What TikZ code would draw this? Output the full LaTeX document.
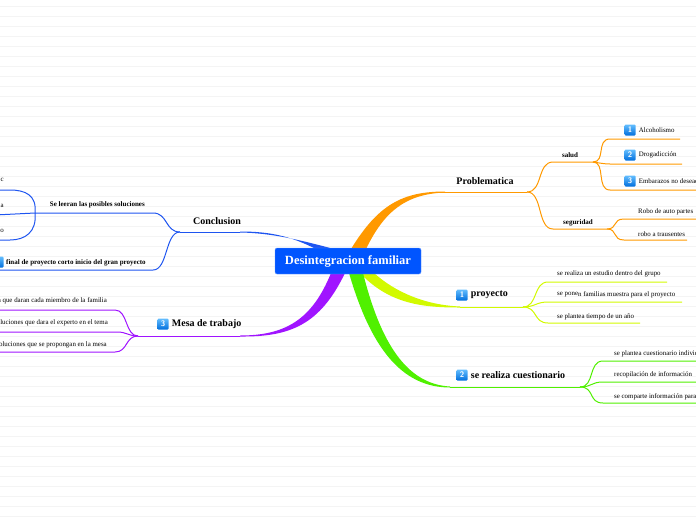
\documentclass[tikz,border=0pt]{standalone}
\usepackage{fontspec}
\setmainfont{Liberation Serif}
\usepackage{tikz}
\usetikzlibrary{positioning}
\definecolor{fondo}{RGB}{244,244,244}
\definecolor{azulcentro}{RGB}{0,85,255}
\definecolor{naranja}{RGB}{255,153,0}
\definecolor{amarillo}{RGB}{210,250,0}
\definecolor{verde}{RGB}{80,240,0}
\definecolor{azulrama}{RGB}{30,85,240}
\definecolor{morado}{RGB}{160,20,255}
\definecolor{iconoarriba}{RGB}{100,190,255}
\definecolor{iconoabajo}{RGB}{0,110,220}

\begin{document}
\begin{tikzpicture}[x=1pt, y=-1pt,
    centro/.style={fill=azulcentro, draw=azulcentro!60!white, rounded corners=2pt,
                   minimum width=146pt, minimum height=26pt, text=white,
                   font=\fontsize{12.5}{13}\selectfont\bfseries},
    rama/.style={font=\fontsize{10}{11}\selectfont\bfseries, inner sep=0pt},
    sub/.style={font=\fontsize{7}{8}\selectfont\bfseries, inner sep=0pt},
    hoja/.style={font=\fontsize{6.9}{8}\selectfont, inner sep=0pt},
    icono/.style={rounded corners=1pt, top color=iconoarriba, bottom color=iconoabajo,
                  text=white, font=\fontsize{8}{8}\selectfont\sffamily\bfseries,
                  minimum size=11pt, inner sep=0pt},
    linea/.style={line width=1pt}]
  \useasboundingbox (0,0) rectangle (696,520);
  \clip (0,0) rectangle (696,520);
  % fondo rayado
  \foreach \y in {6,16,...,516}
    \draw[fondo, line width=0.6pt] (0,\y) -- (696,\y);

  % ramas gruesas
  \fill[naranja] (351,249) .. controls (378,205) and (402,191.5) .. (445,191.5)
    -- (445,192.5) .. controls (405,194) and (384,212) .. (366,249) -- cycle;
  \fill[azulrama] (316,249) .. controls (290,236) and (270,231.5) .. (240,231.5)
    -- (240,232.5) .. controls (272,233) and (300,240) .. (334,249) -- cycle;
  \fill[morado] (331,273) .. controls (312,320) and (285,335.5) .. (240,335.5)
    -- (240,336.5) .. controls (290,337) and (320,325) .. (345,273) -- cycle;
  \fill[amarillo] (360,273) .. controls (390,305) and (425,307.5) .. (460,307.5)
    -- (460,306.5) .. controls (425,305) and (395,292) .. (374,273) -- cycle;
  \fill[verde] (349,273) .. controls (370,345) and (400,387.5) .. (450,387.5)
    -- (450,386.5) .. controls (405,384) and (380,340) .. (363,273) -- cycle;

  \node[centro] (centro) at (348,261) {Desintegracion familiar};

  % Problematica
  \coordinate (probI) at (440,192);
  \coordinate (probD) at (527,192);
  \coordinate (saludD) at (593,162);
  \coordinate (seguD) at (607,229);
  \node[rama] (problematica) at (485,181) {Problematica};
  \node[sub] (salud) at (570,155) {salud};
  \node[sub] (seguridad) at (578,223) {seguridad};
  \node[icono] (i1) at (630,130) {1};
  \node[hoja, right=3pt of i1] (alcoholismo) {Alcoholismo};
  \node[icono] (i2) at (630,155) {2};
  \node[hoja, right=3pt of i2] (drogadiccion) {Drogadicción};
  \node[icono] (i3) at (630,181) {3};
  \node[hoja, right=3pt of i3] (embarazos) {Embarazos no deseados};
  \node[hoja, anchor=west] (robo1) at (638,212) {Robo de auto partes};
  \node[hoja, anchor=west] (robo2) at (638,234) {robo a trausentes};
  \draw[naranja, linea] (probI) -- (probD);
  \draw[naranja, linea] (probD) .. controls (543,192) and (537,162) .. (553,162) -- (saludD);
  \draw[naranja, linea] (probD) .. controls (543,192) and (537,229) .. (553,229) -- (seguD);
  \draw[naranja, linea] (saludD) .. controls (606,162) and (596,139) .. (610,139) -- (680,139);
  \draw[naranja, linea] (saludD) .. controls (600,163) and (604,164) .. (610,164) -- (682,164);
  \draw[naranja, linea] (saludD) .. controls (606,162) and (596,190) .. (610,190) -- (700,190);
  \draw[naranja, linea] (seguD) .. controls (618,229) and (612,219) .. (624,219) -- (700,219);
  \draw[naranja, linea] (seguD) .. controls (618,229) and (612,240) .. (624,240) -- (687,240);

  % proyecto
  \coordinate (proyI) at (460,307);
  \coordinate (proyD) at (523,307);
  \node[icono] (i4) at (462,295) {1};
  \node[rama, right=3pt of i4] (proyecto) {proyecto};
  \node[hoja, anchor=west] (estudio) at (557,274) {se realiza un estudio dentro del grupo};
  \node[hoja, anchor=west] (familias) at (557,295)
    {se pone\raisebox{-0.8pt}{n familias muestra para el proyecto}};
  \node[hoja, anchor=west] (tiempo) at (557,317) {se plantea tiempo de un año};
  \draw[amarillo, linea] (proyI) -- (proyD);
  \draw[amarillo, linea] (proyD) .. controls (538,307) and (533,282) .. (548,282) -- (667,282);
  \draw[amarillo, linea] (proyD) .. controls (535,307) and (536,302) .. (548,302) -- (682,302);
  \draw[amarillo, linea] (proyD) .. controls (538,307) and (533,323) .. (548,323) -- (640,323);

  % se realiza cuestionario
  \coordinate (cuesI) at (450,387);
  \coordinate (cuesD) at (580,387);
  \node[icono] (i5) at (462,375) {2};
  \node[rama, right=3pt of i5] (cuestionario) {se realiza cuestionario};
  \node[hoja, anchor=west] (individual) at (614,354) {se plantea cuestionario individual};
  \node[hoja, anchor=west] (recopilacion) at (614,375) {recopilación de información};
  \node[hoja, anchor=west] (comparte) at (614,397) {se comparte información para};
  \draw[verde, linea] (cuesI) -- (cuesD);
  \draw[verde, linea] (cuesD) .. controls (595,387) and (588,361) .. (603,361) -- (700,361);
  \draw[verde, linea] (cuesD) .. controls (592,387) and (591,382) .. (603,382) -- (700,382);
  \draw[verde, linea] (cuesD) .. controls (595,387) and (588,403) .. (603,403) -- (700,403);

  % Conclusion
  \coordinate (concI) at (240,232);
  \coordinate (concD) at (180,232);
  \coordinate (leeD) at (35,213);
  \node[rama] (conclusion) at (217,221) {Conclusion};
  \node[sub, anchor=east] (leeran) at (145,205) {Se leeran las posibles soluciones};
  \node[icono] (i6) at (-2,262) {4};
  \node[sub, anchor=west] (final) at (6,263) {final de proyecto corto inicio del gran proyecto};
  \node[hoja, anchor=east] (solc) at (4,180) {c};
  \node[hoja, anchor=east] (sola) at (4,206) {a};
  \node[hoja, anchor=east] (solo) at (4,231) {o};
  \draw[azulrama, linea] (concI) -- (concD);
  \draw[azulrama, linea] (concD) .. controls (165,232) and (168,213) .. (153,213) -- (leeD);
  \draw[azulrama, linea] (concD) .. controls (165,232) and (168,270) .. (153,270) -- (-5,270);
  \draw[azulrama, linea] (leeD) .. controls (37,195) and (25,190) .. (10,190) -- (-5,190);
  \draw[azulrama, linea] (leeD) -- (-5,215);
  \draw[azulrama, linea] (leeD) .. controls (37,232) and (25,240) .. (10,240) -- (-5,240);

  % Mesa de trabajo
  \coordinate (mesaI) at (240,336);
  \coordinate (mesaD) at (138,336);
  \node[icono] (i7) at (163,324) {3};
  \node[rama, right=3pt of i7] (mesa) {Mesa de trabajo};
  \node[hoja, anchor=east] (miembro) at (107,301) {a que daran cada miembro de la familia};
  \node[hoja, anchor=east] (experto) at (108,323) {luciones que dara el experto en el tema};
  \node[hoja, anchor=east] (propongan) at (107,345) {oluciones que se propongan en la mesa};
  \draw[morado, linea] (mesaI) -- (mesaD);
  \draw[morado, linea] (mesaD) .. controls (125,336) and (128,310) .. (115,310) -- (-5,310);
  \draw[morado, linea] (mesaD) .. controls (128,336) and (127,332) .. (117,332) -- (-5,332);
  \draw[morado, linea] (mesaD) .. controls (125,336) and (128,352) .. (115,352) -- (-5,352);
\end{tikzpicture}
\end{document}
